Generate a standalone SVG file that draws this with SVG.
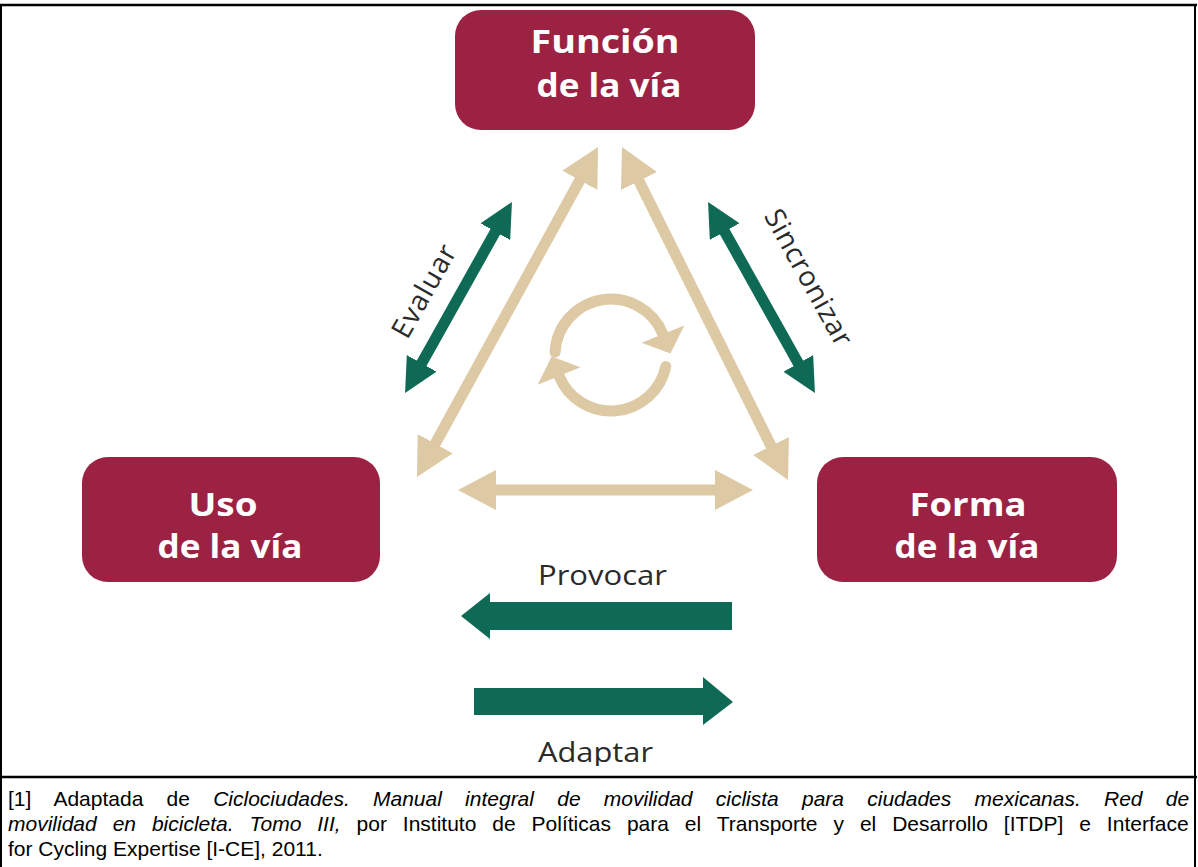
<svg xmlns="http://www.w3.org/2000/svg" width="1198" height="867" viewBox="0 0 1198 867">
<defs>
  <style>
    .node rect { fill: #9C2244; }
    .ntext { font-family: "Open Sans", "DejaVu Sans", sans-serif; font-weight: 700; font-size: 32px; fill: #ffffff; text-anchor: middle; }
    .lbl { font-family: "Open Sans", "DejaVu Sans", sans-serif; font-size: 28px; fill: #2a2a2a; }
    .tan { stroke: #DDC9A4; stroke-width: 11; fill: none; }
    .grn { stroke: #0E6A55; stroke-width: 11; fill: none; }
    .cap { font-family: "Liberation Sans", Arial, sans-serif; font-size: 21px; fill: #000; }
    .it { font-style: italic; }
  </style>
  <marker id="tanHead" markerUnits="userSpaceOnUse" markerWidth="42" markerHeight="42" refX="14" refY="20" orient="auto-start-reverse" viewBox="0 0 42 42">
    <path d="M0,0 L38,20 L0,40 z" fill="#DDC9A4"/>
  </marker>
  <marker id="grnHead" markerUnits="userSpaceOnUse" markerWidth="40" markerHeight="40" refX="12" refY="17" orient="auto-start-reverse" viewBox="0 0 40 40">
    <path d="M0,0 L34,17 L0,34 z" fill="#0E6A55"/>
  </marker>
  <clipPath id="imgClip"><rect x="0" y="0" width="1198" height="766"/></clipPath>
</defs>
<rect x="0" y="0" width="1198" height="867" fill="#ffffff"/>

<g id="frame" stroke="#000" fill="none">
  <line x1="0" y1="5" x2="1197" y2="5" stroke-width="2.5"/>
  <line x1="1" y1="5" x2="1" y2="867" stroke-width="2"/>
  <line x1="1195" y1="5" x2="1195" y2="867" stroke-width="2"/>
  <line x1="0" y1="777" x2="1197" y2="777" stroke-width="2.5"/>
</g>

<g id="connectors">
  <line class="tan" x1="428.5" y1="456" x2="586.5" y2="168" marker-start="url(#tanHead)" marker-end="url(#tanHead)"/>
  <line class="tan" x1="632.7" y1="168.5" x2="777.3" y2="458.5" marker-start="url(#tanHead)" marker-end="url(#tanHead)"/>
  <line class="tan" x1="482" y1="490" x2="729" y2="490" marker-start="url(#tanHead)" marker-end="url(#tanHead)"/>
  <line class="grn" x1="415.8" y1="373.8" x2="501.2" y2="221.2" marker-start="url(#grnHead)" marker-end="url(#grnHead)"/>
  <line class="grn" x1="718.8" y1="221.2" x2="804.2" y2="373.8" marker-start="url(#grnHead)" marker-end="url(#grnHead)"/>
  <polygon points="461,616 490,593 490,602 732,602 732,630 490,630 490,639" fill="#0E6A55"/>
  <polygon points="733,702 703,677 703,688 474,688 474,715 703,715 703,725" fill="#0E6A55"/>
</g>

<g id="cycle">
  <path class="tan" stroke-linecap="round" d="M555.1,352.1 A56,56 0 0 1 662.9,334"/>
  <polygon points="684.3,325.4 641.5,342.7 670.4,353.5" fill="#DDC9A4"/>
  <path class="tan" stroke-linecap="round" d="M665.8,366.6 A56,56 0 0 1 559.1,376"/>
  <polygon points="580.5,367.3 537.7,384.7 551.6,356.5" fill="#DDC9A4"/>
</g>

<g id="labels">
  <text class="lbl" text-anchor="middle" dominant-baseline="central" letter-spacing="1" transform="translate(423,290) rotate(-60.7)">Evaluar</text>
  <text class="lbl" text-anchor="middle" dominant-baseline="central" letter-spacing="0.6" transform="translate(810,277) rotate(61)">Sincronizar</text>
  <text class="lbl" x="538" y="585" textLength="129" lengthAdjust="spacingAndGlyphs">Provocar</text>
  <g clip-path="url(#imgClip)">
    <text class="lbl" x="538" y="762" textLength="115" lengthAdjust="spacingAndGlyphs">Adaptar</text>
  </g>
</g>

<g id="funcion" class="node">
  <rect x="455" y="10" width="300" height="120" rx="26"/>
  <text class="ntext" x="605" y="53" textLength="149" lengthAdjust="spacingAndGlyphs">Función</text>
  <text class="ntext" x="609" y="97" textLength="145" lengthAdjust="spacingAndGlyphs">de la vía</text>
</g>
<g id="uso" class="node">
  <rect x="82" y="457" width="298" height="125" rx="26"/>
  <text class="ntext" x="223" y="516" textLength="69" lengthAdjust="spacingAndGlyphs">Uso</text>
  <text class="ntext" x="230" y="558" textLength="145" lengthAdjust="spacingAndGlyphs">de la vía</text>
</g>
<g id="forma" class="node">
  <rect x="817" y="457" width="300" height="125" rx="26"/>
  <text class="ntext" x="968" y="516" textLength="117" lengthAdjust="spacingAndGlyphs">Forma</text>
  <text class="ntext" x="967" y="558" textLength="145" lengthAdjust="spacingAndGlyphs">de la vía</text>
</g>

<g id="caption">
  <text class="cap" x="8" y="806" word-spacing="17.4">[1] Adaptada de <tspan class="it">Ciclociudades. Manual integral de movilidad ciclista para ciudades mexicanas. Red de</tspan></text>
  <text class="cap" x="8" y="831" word-spacing="10.1"><tspan class="it">movilidad en bicicleta. Tomo III,</tspan> por Instituto de Políticas para el Transporte y el Desarrollo [ITDP] e Interface</text>
  <text class="cap" x="8" y="856">for Cycling Expertise [I-CE], 2011.</text>
</g>
</svg>
